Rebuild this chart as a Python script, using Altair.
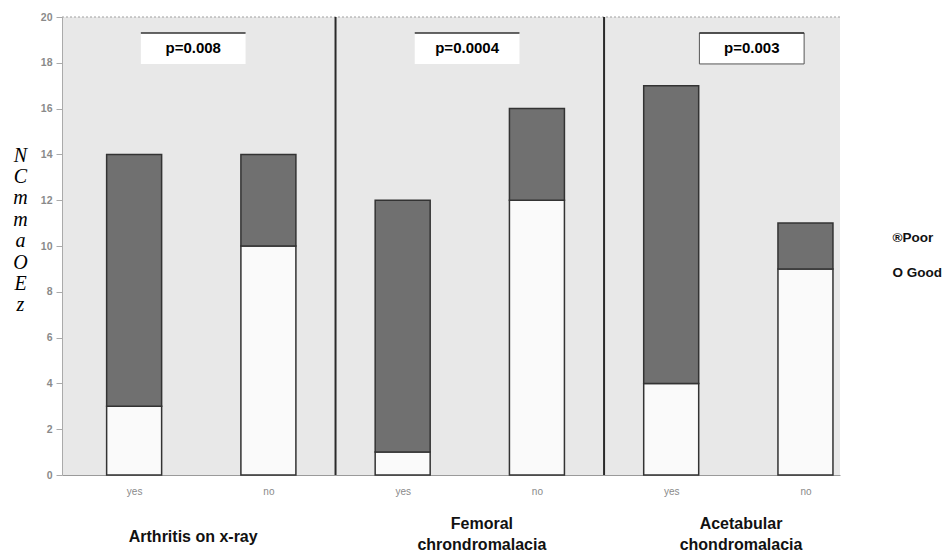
import altair as alt
import pandas as pd

# ---- data ----
group_titles = ["Arthritis on x-ray", "Femoral\nchrondromalacia", "Acetabular\nchondromalacia"]
title_shift = [-0.06, 0.09, 0.02]      # group-title offset from the group centre (x units)
answers = ["yes", "no", "yes", "no", "yes", "no"]
good = [3, 10, 1, 12, 4, 9]
poor = [11, 4, 11, 4, 13, 2]
p_values = ["p=0.008", "p=0.0004", "p=0.003"]
p_shift = [-0.06, -0.02, 0.1]          # p-box offset from the group centre (x units)
p_border = [0, 0, 1]                   # only the last p-box has a full frame
y_title_lines = ["N", "C", "m", "m", "a", "O", " ", "E", "z"]

# ---- tables built from the arrays ----
rows = []
for i, (g, p) in enumerate(zip(good, poor)):
    rows.append(dict(pos=i, answer=answers[i], outcome="Good", y0=0, y1=g))
    rows.append(dict(pos=i, answer=answers[i], outcome="Poor", y0=g, y1=g + p))
bars_df = pd.DataFrame(rows)

groups_df = pd.DataFrame({
    "title": [t.split("\n") for t in group_titles],
    "center": [2 * i + 0.5 + s for i, s in enumerate(title_shift)],
})
groups_df["ty"] = [520 - 13 * (len(t) - 1) for t in groups_df["title"]]

p_df = pd.DataFrame({
    "label": p_values,
    "xc": [2 * i + 0.5 + s for i, s in enumerate(p_shift)],
    "bw": p_border,
})
p_df["x0"] = p_df["xc"] - 0.39
p_df["x1"] = p_df["xc"] + 0.39
p_df["ylo"] = 17.95
p_df["yhi"] = 19.3
p_df["ytxt"] = 18.65

sep_df = pd.DataFrame({"x": [1.5, 3.5]})

XS = alt.Scale(domain=[-0.5, 5.22], nice=False, zero=False)
YS = alt.Scale(domain=[0, 20], nice=False)
SANS = "Liberation Sans, Arial, sans-serif"

bars = alt.Chart(bars_df).mark_bar(size=55, stroke="#333333", strokeWidth=1.5).encode(
    x=alt.X("pos:Q", scale=XS,
            axis=alt.Axis(values=[0, 1, 2, 3, 4, 5], title=None, ticks=False,
                          labelExpr="datum.value % 2 == 0 ? 'yes' : 'no'",
                          labelColor="#8a8a8a", labelFontSize=10, labelPadding=11,
                          domainColor="#9a9a9a", grid=False)),
    y=alt.Y("y0:Q", scale=YS,
            axis=alt.Axis(values=list(range(0, 21, 2)), grid=False,
                          title=y_title_lines, titleAngle=0, titleX=-42, titleY=128,
                          titleBaseline="top", titleAlign="center",
                          titleFont="Liberation Serif", titleFontStyle="italic",
                          titleFontWeight="normal", titleFontSize=20, titleLineHeight=21.4,
                          titleColor="#000000",
                          labelColor="#8a8a8a", labelFontSize=10.5, labelFontWeight="bold",
                          labelPadding=4, tickSize=6, tickColor="#aaaaaa",
                          domainColor="#aaaaaa")),
    y2="y1:Q",
    color=alt.Color("outcome:N",
                    scale=alt.Scale(domain=["Poor", "Good"], range=["#707070", "#fafafa"]),
                    legend=alt.Legend(title=None, orient="none", legendX=817, legendY=214,
                                      symbolOpacity=0, symbolSize=0, symbolStrokeWidth=0,
                                      labelOffset=0, rowPadding=20, padding=0,
                                      labelExpr="datum.label == 'Poor' ? '®Poor' : 'O Good'",
                                      labelFont=SANS, labelFontWeight="bold",
                                      labelFontSize=13.5, labelColor="#111111",
                                      labelLimit=200)),
)

top_rule = alt.Chart(pd.DataFrame({"y": [20]})).mark_rule(
    color="#a0a0a0", strokeDash=[2, 2]).encode(y=alt.Y("y:Q", scale=YS))

seps = alt.Chart(sep_df).mark_rule(color="#2a2a2a", strokeWidth=2).encode(
    x=alt.X("x:Q", scale=XS))

p_box = alt.Chart(p_df).mark_rect(fill="white", stroke="#555555").encode(
    x=alt.X("x0:Q", scale=XS), x2="x1:Q",
    y=alt.Y("ylo:Q", scale=YS), y2="yhi:Q",
    strokeWidth=alt.StrokeWidth("bw:Q", scale=None),
)
p_top = alt.Chart(p_df).mark_rule(color="#333333", strokeWidth=1.5).encode(
    x=alt.X("x0:Q", scale=XS), x2="x1:Q", y=alt.Y("yhi:Q", scale=YS))
p_text = alt.Chart(p_df).mark_text(font=SANS, fontWeight="bold", fontSize=15,
                                   color="#000000", baseline="middle").encode(
    x=alt.X("xc:Q", scale=XS), y=alt.Y("ytxt:Q", scale=YS), text="label:N")

group_text = alt.Chart(groups_df).mark_text(
    font=SANS, fontWeight="bold", fontSize=16, lineHeight=21,
    baseline="middle", color="#111111", clip=False).encode(
    x=alt.X("center:Q", scale=XS), y=alt.Y("ty:Q", scale=None), text="title")

chart = alt.layer(bars, top_rule, seps, p_box, p_top, p_text, group_text).properties(
    width=778, height=458,
    autosize=alt.AutoSizeParams(type="none"),
    padding={"left": 54, "top": 9, "right": 104, "bottom": 77},
    background="white",
).configure_view(fill="#e8e8e8", stroke=None)

chart.save("out.html", embed_options={"renderer": "svg", "actions": False})
